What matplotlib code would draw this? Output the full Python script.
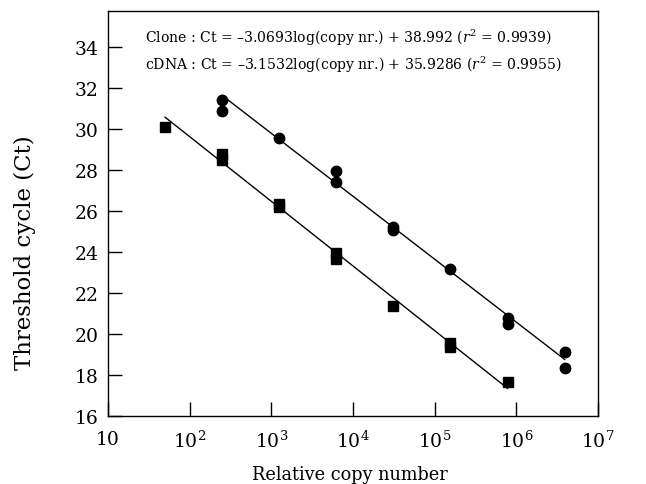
import matplotlib
matplotlib.use("Agg")
import matplotlib.pyplot as plt
import numpy as np

plt.rcParams['font.family'] = ['DejaVu Serif']
plt.rcParams['mathtext.fontset'] = 'dejavuserif'

# relative copy numbers (5-fold dilution series)
clone_x = [250, 250, 1250, 6250, 6250, 31250, 31250, 156250, 781250, 781250, 3906250, 3906250]
clone_ct = [31.4, 30.85, 29.55, 27.95, 27.4, 25.2, 25.05, 23.15, 20.8, 20.5, 19.1, 18.35]

cdna_x = [50, 250, 250, 1250, 1250, 6250, 6250, 31250, 156250, 156250, 781250]
cdna_ct = [30.1, 28.8, 28.5, 26.35, 26.2, 23.95, 23.65, 21.35, 19.55, 19.35, 17.65]

# regression coefficients (slope, intercept)
clone_fit = (-3.0693, 38.992)
cdna_fit = (-3.1532, 35.9286)

fig = plt.figure(figsize=(6.46, 4.85), dpi=100)
ax = fig.add_axes([108/646, 1 - 417/485, 490/646, 405/485])

for xs, ys, fit, mk, ms in [(clone_x, clone_ct, clone_fit, 'o', 7.5),
                             (cdna_x, cdna_ct, cdna_fit, 's', 6.5)]:
    xx = np.array([min(xs), max(xs)], dtype=float)
    ax.plot(xx, fit[0] * np.log10(xx) + fit[1], color='black', lw=1)
    ax.plot(xs, ys, linestyle='none', marker=mk, color='black', ms=ms)

ax.set_xscale('log')
ax.set_xlim(10, 1e7)
ax.set_ylim(16, 35.75)
ax.set_yticks(np.arange(16, 35, 2))
ax.set_xticks([10, 1e2, 1e3, 1e4, 1e5, 1e6, 1e7])
ax.set_xticklabels(['10', '$10^2$', '$10^3$', '$10^4$', '$10^5$', '$10^6$', '$10^7$'])
ax.minorticks_off()
ax.tick_params(direction='in', length=10, width=1, labelsize=13.5)
ax.tick_params(axis='x', pad=10)
ax.tick_params(axis='y', pad=7)
for s in ax.spines.values():
    s.set_linewidth(1)

ax.set_xlabel('Relative copy number', fontsize=12.8)
ax.xaxis.set_label_coords(242/490, -49/405)
ax.set_ylabel('Threshold cycle (Ct)', fontsize=16.5)
ax.yaxis.set_label_coords(-72/490, (417-253)/405)

ax.text(0.075, 0.935, 'Clone : Ct = \u20133.0693log(copy nr.) + 38.992 ($r^2$ = 0.9939)',
        transform=ax.transAxes, fontsize=10.1, va='center')
ax.text(0.075, 0.870, 'cDNA : Ct = \u20133.1532log(copy nr.) + 35.9286 ($r^2$ = 0.9955)',
        transform=ax.transAxes, fontsize=10.1, va='center')

fig.savefig('out.png', dpi=100)
